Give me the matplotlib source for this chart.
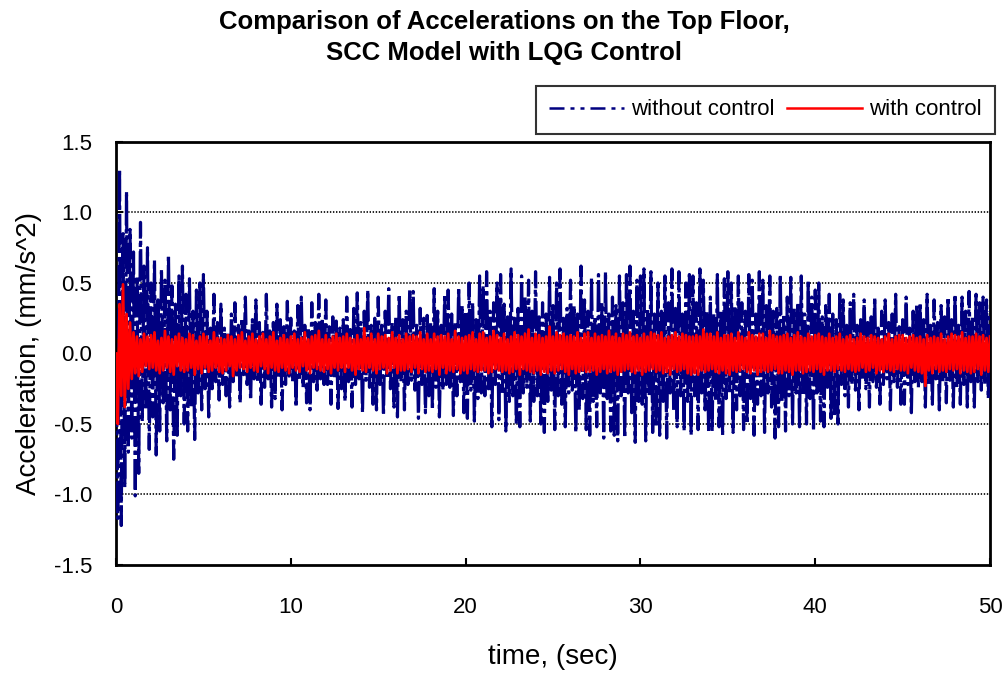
import numpy as np
import matplotlib
matplotlib.use('Agg')
import matplotlib.pyplot as plt
from matplotlib.lines import Line2D

plt.rcParams['font.family'] = ['Liberation Sans', 'DejaVu Sans']
plt.rcParams['lines.scale_dashes'] = False

# sample step of the values (s)
dt = 0.1

# peaks, without control (mm/s^2), one row per second
acc_nc = [
    0.00, -1.17, 1.31, -1.22, 0.85, -0.95, 1.15, -0.70, 0.88, -0.60,
    0.72, -1.01, 0.55, -0.85, 0.93, -0.48, 0.62, -0.40, 0.75, -0.68,
    0.50, -0.45, 0.66, -0.72, 0.38, -0.55, 0.60, -0.35, 0.52, -0.62,
    0.70, -0.40, 0.48, -0.75, 0.35, -0.58, 0.55, -0.30, 0.62, -0.50,
    0.42, -0.55, 0.53, -0.38, 0.30, -0.61, 0.45, -0.28, 0.50, -0.40,
    0.56, -0.25, 0.30, -0.45, 0.18, -0.25, 0.42, -0.20, 0.22, -0.33,
    0.35, -0.22, 0.18, -0.30, 0.15, -0.38, 0.28, -0.20, 0.36, -0.17,
    0.20, -0.35, 0.25, -0.15, 0.40, -0.22, 0.16, -0.33, 0.24, -0.18,
    0.38, -0.20, 0.22, -0.36, 0.15, -0.24, 0.42, -0.18, 0.16, -0.38,
    0.22, -0.32, 0.35, -0.17, 0.24, -0.40, 0.19, -0.22, 0.37, -0.16,
    0.25, -0.20, 0.16, -0.38, 0.34, -0.18, 0.40, -0.24, 0.20, -0.35,
    0.18, -0.40, 0.36, -0.20, 0.22, -0.26, 0.42, -0.18, 0.25, -0.22,
    0.38, -0.22, 0.19, -0.36, 0.26, -0.17, 0.23, -0.39, 0.18, -0.25,
    0.24, -0.34, 0.40, -0.20, 0.17, -0.38, 0.32, -0.22, 0.43, -0.18,
    0.22, -0.42, 0.30, -0.19, 0.45, -0.24, 0.20, -0.36, 0.25, -0.40,
    0.40, -0.22, 0.20, -0.44, 0.30, -0.18, 0.46, -0.25, 0.22, -0.38,
    0.26, -0.45, 0.42, -0.20, 0.24, -0.40, 0.30, -0.22, 0.45, -0.19,
    0.44, -0.26, 0.20, -0.46, 0.32, -0.22, 0.25, -0.42, 0.27, -0.30,
    0.22, -0.40, 0.46, -0.24, 0.30, -0.45, 0.20, -0.26, 0.42, -0.22,
    0.45, -0.24, 0.28, -0.44, 0.22, -0.30, 0.47, -0.20, 0.34, -0.42,
    0.30, -0.46, 0.50, -0.26, 0.36, -0.48, 0.24, -0.32, 0.55, -0.28,
    0.48, -0.30, 0.58, -0.25, 0.30, -0.52, 0.36, -0.22, 0.50, -0.47,
    0.56, -0.28, 0.35, -0.55, 0.26, -0.34, 0.60, -0.30, 0.25, -0.50,
    0.32, -0.52, 0.55, -0.28, 0.40, -0.24, 0.52, -0.48, 0.30, -0.34,
    0.58, -0.30, 0.26, -0.50, 0.36, -0.56, 0.28, -0.34, 0.54, -0.26,
    0.34, -0.54, 0.50, -0.30, 0.60, -0.36, 0.25, -0.52, 0.32, -0.28,
    0.52, -0.26, 0.34, -0.56, 0.28, -0.40, 0.62, -0.32, 0.38, -0.54,
    0.30, -0.58, 0.54, -0.34, 0.26, -0.52, 0.56, -0.28, 0.36, -0.60,
    0.58, -0.32, 0.28, -0.55, 0.40, -0.58, 0.34, -0.62, 0.55, -0.30,
    0.36, -0.60, 0.56, -0.28, 0.62, -0.42, 0.30, -0.63, 0.52, -0.34,
    0.55, -0.36, 0.60, -0.62, 0.32, -0.30, 0.58, -0.56, 0.28, -0.52,
    0.50, -0.58, 0.30, -0.34, 0.55, -0.60, 0.36, -0.28, 0.60, -0.40,
    0.32, -0.52, 0.58, -0.30, 0.28, -0.55, 0.50, -0.34, 0.56, -0.58,
    0.55, -0.30, 0.36, -0.54, 0.60, -0.28, 0.52, -0.40, 0.30, -0.56,
    0.40, -0.55, 0.28, -0.34, 0.56, -0.52, 0.30, -0.58, 0.53, -0.32,
    0.58, -0.28, 0.50, -0.56, 0.34, -0.40, 0.55, -0.30, 0.36, -0.54,
    0.30, -0.50, 0.56, -0.32, 0.52, -0.58, 0.28, -0.36, 0.58, -0.30,
    0.52, -0.56, 0.34, -0.28, 0.55, -0.38, 0.30, -0.60, 0.32, -0.52,
    0.56, -0.34, 0.28, -0.55, 0.40, -0.30, 0.54, -0.50, 0.32, -0.28,
    0.36, -0.52, 0.55, -0.30, 0.28, -0.50, 0.52, -0.32, 0.40, -0.55,
    0.45, -0.28, 0.50, -0.48, 0.26, -0.52, 0.34, -0.24, 0.42, -0.46,
    0.28, -0.44, 0.24, -0.50, 0.42, -0.22, 0.38, -0.30, 0.20, -0.38,
    0.36, -0.22, 0.42, -0.26, 0.20, -0.40, 0.24, -0.18, 0.38, -0.25,
    0.22, -0.38, 0.26, -0.20, 0.40, -0.24, 0.18, -0.36, 0.30, -0.22,
    0.38, -0.18, 0.22, -0.40, 0.28, -0.20, 0.42, -0.24, 0.19, -0.36,
    0.24, -0.36, 0.40, -0.22, 0.18, -0.42, 0.30, -0.20, 0.34, -0.24,
    0.36, -0.20, 0.24, -0.38, 0.42, -0.22, 0.20, -0.36, 0.38, -0.18,
    0.22, -0.40, 0.34, -0.20, 0.26, -0.35, 0.40, -0.19, 0.24, -0.38,
    0.42, -0.24, 0.20, -0.36, 0.40, -0.22, 0.30, -0.38, 0.44, -0.20,
    0.26, -0.38, 0.42, -0.20, 0.36, -0.26, 0.40, -0.22, 0.38, -0.32,
    0.30,
]

# peaks, with LQG control (mm/s^2)
acc_c = [
    0.00, -0.50, 0.35, -0.30, 0.49, -0.38, 0.28, -0.25, 0.22, -0.18,
    0.15, -0.14, 0.12, -0.16, 0.10, -0.13, 0.14, -0.09, 0.12, -0.11,
    0.13, -0.10, 0.15, -0.12, 0.09, -0.14, 0.11, -0.12, 0.16, -0.10,
    0.12, -0.13, 0.10, -0.15, 0.12, -0.09, 0.14, -0.12, 0.11, -0.13,
    0.10, -0.12, 0.14, -0.10, 0.13, -0.15, 0.09, -0.11, 0.12, -0.14,
    0.14, -0.10, 0.12, -0.13, 0.09, -0.12, 0.15, -0.10, 0.11, -0.13,
    0.11, -0.14, 0.10, -0.12, 0.13, -0.09, 0.12, -0.16, 0.10, -0.12,
    0.13, -0.10, 0.15, -0.11, 0.09, -0.13, 0.12, -0.10, 0.14, -0.12,
    0.10, -0.13, 0.12, -0.09, 0.14, -0.11, 0.10, -0.14, 0.12, -0.10,
    0.15, -0.12, 0.09, -0.13, 0.11, -0.10, 0.13, -0.12, 0.10, -0.14,
    0.12, -0.10, 0.14, -0.12, 0.10, -0.13, 0.11, -0.09, 0.15, -0.12,
    0.10, -0.14, 0.12, -0.10, 0.13, -0.11, 0.16, -0.12, 0.10, -0.13,
    0.13, -0.11, 0.10, -0.14, 0.12, -0.10, 0.14, -0.12, 0.11, -0.10,
    0.12, -0.13, 0.14, -0.10, 0.11, -0.12, 0.10, -0.15, 0.13, -0.11,
    0.10, -0.12, 0.18, -0.13, 0.11, -0.10, 0.14, -0.12, 0.10, -0.14,
    0.14, -0.11, 0.12, -0.10, 0.13, -0.14, 0.11, -0.12, 0.15, -0.10,
    0.11, -0.14, 0.13, -0.12, 0.10, -0.12, 0.14, -0.11, 0.12, -0.13,
    0.13, -0.10, 0.12, -0.14, 0.15, -0.11, 0.10, -0.13, 0.14, -0.12,
    0.10, -0.13, 0.14, -0.11, 0.12, -0.15, 0.13, -0.10, 0.12, -0.14,
    0.14, -0.12, 0.10, -0.13, 0.16, -0.11, 0.12, -0.14, 0.11, -0.12,
    0.12, -0.14, 0.13, -0.11, 0.15, -0.12, 0.10, -0.13, 0.14, -0.12,
    0.15, -0.12, 0.11, -0.14, 0.12, -0.13, 0.16, -0.11, 0.13, -0.12,
    0.11, -0.13, 0.14, -0.12, 0.10, -0.14, 0.12, -0.13, 0.15, -0.11,
    0.13, -0.15, 0.12, -0.11, 0.14, -0.12, 0.17, -0.13, 0.11, -0.14,
    0.14, -0.12, 0.13, -0.15, 0.11, -0.13, 0.12, -0.14, 0.19, -0.12,
    0.12, -0.14, 0.15, -0.12, 0.13, -0.11, 0.14, -0.13, 0.12, -0.15,
    0.13, -0.11, 0.12, -0.14, 0.15, -0.13, 0.11, -0.12, 0.14, -0.13,
    0.15, -0.13, 0.11, -0.12, 0.14, -0.15, 0.12, -0.13, 0.13, -0.11,
    0.12, -0.14, 0.16, -0.13, 0.12, -0.12, 0.14, -0.15, 0.11, -0.13,
    0.14, -0.12, 0.13, -0.11, 0.15, -0.13, 0.12, -0.14, 0.13, -0.12,
    0.11, -0.15, 0.14, -0.13, 0.12, -0.12, 0.15, -0.11, 0.14, -0.13,
    0.13, -0.12, 0.15, -0.14, 0.11, -0.13, 0.12, -0.15, 0.13, -0.11,
    0.15, -0.13, 0.12, -0.12, 0.14, -0.11, 0.13, -0.14, 0.12, -0.15,
    0.12, -0.14, 0.13, -0.15, 0.12, -0.12, 0.17, -0.13, 0.14, -0.12,
    0.14, -0.11, 0.12, -0.13, 0.15, -0.14, 0.11, -0.12, 0.13, -0.14,
    0.13, -0.15, 0.14, -0.12, 0.11, -0.13, 0.15, -0.12, 0.12, -0.11,
    0.11, -0.13, 0.15, -0.14, 0.13, -0.12, 0.12, -0.15, 0.14, -0.13,
    0.14, -0.12, 0.11, -0.13, 0.16, -0.12, 0.13, -0.11, 0.12, -0.14,
    0.12, -0.14, 0.13, -0.12, 0.14, -0.13, 0.11, -0.15, 0.13, -0.12,
    0.15, -0.12, 0.12, -0.14, 0.11, -0.13, 0.14, -0.12, 0.12, -0.13,
    0.13, -0.11, 0.14, -0.13, 0.12, -0.15, 0.11, -0.12, 0.14, -0.12,
    0.11, -0.13, 0.12, -0.11, 0.14, -0.12, 0.10, -0.13, 0.12, -0.11,
    0.13, -0.12, 0.10, -0.13, 0.11, -0.12, 0.14, -0.10, 0.12, -0.13,
    0.11, -0.12, 0.13, -0.10, 0.12, -0.14, 0.11, -0.12, 0.10, -0.13,
    0.12, -0.11, 0.14, -0.12, 0.10, -0.13, 0.12, -0.11, 0.13, -0.12,
    0.13, -0.12, 0.11, -0.14, 0.12, -0.10, 0.13, -0.12, 0.11, -0.13,
    0.12, -0.14, 0.10, -0.23, 0.13, -0.12, 0.11, -0.14, 0.12, -0.11,
    0.11, -0.13, 0.14, -0.12, 0.10, -0.13, 0.12, -0.11, 0.14, -0.12,
    0.13, -0.11, 0.12, -0.14, 0.15, -0.12, 0.11, -0.13, 0.12, -0.14,
    0.12, -0.13, 0.14, -0.11, 0.12, -0.15, 0.13, -0.12, 0.11, -0.13,
    0.12,
]

t_nc = np.arange(len(acc_nc)) * dt
t_c = np.arange(len(acc_c)) * dt

navy = '#000080'
dashdotdot = (0, (10.8, 4.3, 2.9, 4.3, 2.9, 4.3))

fig = plt.figure(figsize=(10.08, 6.73), dpi=100)
ax = fig.add_axes([0.1151, 0.1605, 0.8671, 0.6285])

ax.plot(t_nc, acc_nc, color=navy, lw=2.3, linestyle=(0, (22, 3, 3, 3)), zorder=3)
ax.plot(t_c, acc_c, color='#ff0000', lw=2.0, zorder=4)

ax.set_xlim(0, 50)
ax.set_ylim(-1.5, 1.5)
ax.set_xticks([0, 10, 20, 30, 40, 50])
ax.set_yticks([-1.5, -1.0, -0.5, 0.0, 0.5, 1.0, 1.5])
ax.set_yticklabels(['-1.5', '-1.0', '-0.5', '0.0', '0.5', '1.0', '1.5'])
ax.tick_params(direction='in', length=5, width=1.5, labelsize=16)
ax.tick_params(axis='x', pad=23)
ax.tick_params(axis='y', pad=17)
for yv in [-1.0, -0.5, 0.0, 0.5, 1.0]:
    ax.axhline(yv, color='black', lw=1.2, ls=(0, (1.0, 1.2)), zorder=1)
for sp in ax.spines.values():
    sp.set_linewidth(2)

ax.set_xlabel('time, (sec)', fontsize=20, labelpad=19)
ax.set_ylabel('Acceleration, (mm/s^2)', fontsize=20, labelpad=9)
fig.text(0.5, 1 - 22 / 673, 'Comparison of Accelerations on the Top Floor,',
         ha='center', va='center', fontsize=18.5, fontweight='bold')
fig.text(0.5, 1 - 53 / 673, 'SCC Model with LQG Control',
         ha='center', va='center', fontsize=18.5, fontweight='bold')

handles = [Line2D([], [], color=navy, lw=1.8, linestyle=dashdotdot),
           Line2D([], [], color='#ff0000', lw=1.8)]
leg = fig.legend(handles, ['without control', 'with control'], loc='upper right',
                 bbox_to_anchor=(995 / 1008, 1 - 86 / 673), ncol=2, fontsize=16,
                 handlelength=3.4, columnspacing=0.55, handletextpad=0.3,
                 frameon=True, fancybox=False, borderpad=0.6, borderaxespad=0)
leg.get_frame().set_edgecolor('black')
leg.get_frame().set_linewidth(1.5)

fig.savefig('out.png', dpi=100)
